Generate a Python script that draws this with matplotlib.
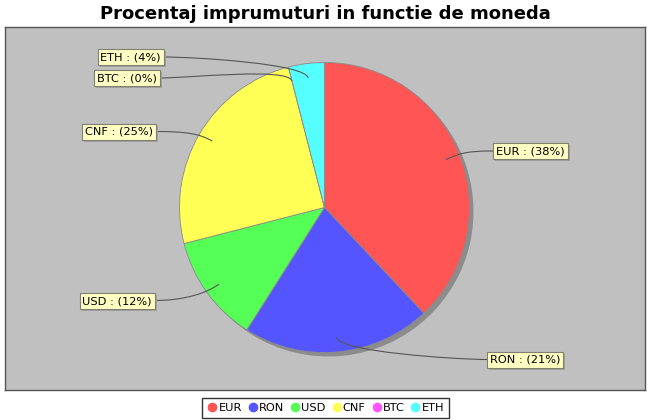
import numpy as np
import matplotlib
matplotlib.use("Agg")
import matplotlib.pyplot as plt
from matplotlib.path import Path
from matplotlib.patches import PathPatch, Rectangle
from matplotlib.lines import Line2D

title = "Procentaj imprumuturi in functie de moneda"
categories = ["EUR", "RON", "USD", "CNF", "BTC", "ETH"]
values = [38, 21, 12, 25, 0, 4]
colors = ["#FF5555", "#5555FF", "#55FF55", "#FFFF55", "#FF55FF", "#55FFFF"]

# label box anchor (edge x, center y) in pixels, and side
label_pos = {
    "EUR": (493, 151, "right"),
    "RON": (487, 359.5, "right"),
    "USD": (155, 300.5, "left"),
    "CNF": (156, 131.5, "left"),
    "BTC": (160, 78, "left"),
    "ETH": (164, 57, "left"),
}

W, H = 650, 420
fig = plt.figure(figsize=(W / 100, H / 100), dpi=100)
fig.patch.set_facecolor("white")

px0, py0, px1, py1 = 5, 27, 645, 390
ax = fig.add_axes([px0 / W, 1 - py1 / H, (px1 - px0) / W, (py1 - py0) / H])
ax.set_facecolor("#C0C0C0")
for s in ax.spines.values():
    s.set_color("#555555")
    s.set_linewidth(1.0)

def Y(py):
    return H - py

cx, cy, r = 324.5, Y(207.5), 145.0

ax.pie(values, colors=["#8C8C8C"] * len(values), startangle=90, counterclock=False,
       center=(cx + 4, cy - 4), radius=r, frame=True,
       wedgeprops=dict(linewidth=0, edgecolor="none"))
ax.pie(values, colors=colors, startangle=90, counterclock=False,
       center=(cx, cy), radius=r, frame=True,
       wedgeprops=dict(linewidth=0.6, edgecolor="#8A8A8A"))

ax.set_xlim(px0, px1)
ax.set_ylim(Y(py1), Y(py0))
ax.set_aspect("auto")
ax.set_xticks([])
ax.set_yticks([])

renderer = fig.canvas.get_renderer()
total = sum(values)
cum = 0.0
padx = 3.0
for cat, v in zip(categories, values):
    mid = (cum + v / 2) / total * 2 * np.pi  # clockwise from top
    cum += v
    sx, sy = np.sin(mid), np.cos(mid)
    link = (cx + 0.9 * r * sx, cy + 0.9 * r * sy)
    elbow = (cx + 1.0 * r * sx, cy + 1.0 * r * sy)
    lx, ly, side = label_pos[cat]
    target = (lx, Y(ly))
    if side == "right":
        near = (lx - 30, Y(ly))
        ha = "left"
        tx = lx + padx
    else:
        near = (lx + 30, Y(ly))
        ha = "right"
        tx = lx - padx
    path = Path([link, elbow, near, target],
                [Path.MOVETO, Path.CURVE4, Path.CURVE4, Path.CURVE4])
    ax.add_patch(PathPatch(path, facecolor="none", edgecolor="#555555", lw=0.8, zorder=5))
    pct = round(v / total * 100)
    txt = f"{cat} : ({pct}%)"
    t = ax.text(tx, Y(ly) - 0.5, txt, ha=ha, va="center", fontsize=8.2, color="black", zorder=8)
    bb = t.get_window_extent(renderer)
    inv = ax.transData.inverted()
    (x0, _), (x1, _) = inv.transform([(bb.x0, bb.y0), (bb.x1, bb.y1)])
    w = (x1 - x0) + 2 * padx
    h = 16.0
    bx = lx if side == "right" else lx - w
    by = Y(ly) - h / 2
    ax.add_patch(Rectangle((bx + 2, by - 2), w, h, facecolor="#A0A0A0",
                           edgecolor="none", zorder=6))
    ax.add_patch(Rectangle((bx, by), w, h, facecolor="#FFFFC4",
                           edgecolor="#808070", lw=0.8, zorder=7))

fig.text(325 / W, 1 - 14 / H, title, ha="center", va="center",
         fontsize=13, fontweight="bold", color="black")

handles = [Line2D([], [], marker="o", linestyle="none", markersize=7,
                  markerfacecolor=c, markeredgecolor="none") for c in colors]
leg = fig.legend(handles, categories, loc="center", bbox_to_anchor=(325.5 / W, 1 - 408 / H),
                 ncol=len(categories), frameon=True, fancybox=False, fontsize=8.2,
                 handletextpad=0.05, columnspacing=0.45, borderpad=0.4,
                 handlelength=1.0, borderaxespad=0)
leg.get_frame().set_edgecolor("black")
leg.get_frame().set_linewidth(1.0)

fig.savefig("out.png", dpi=100)
